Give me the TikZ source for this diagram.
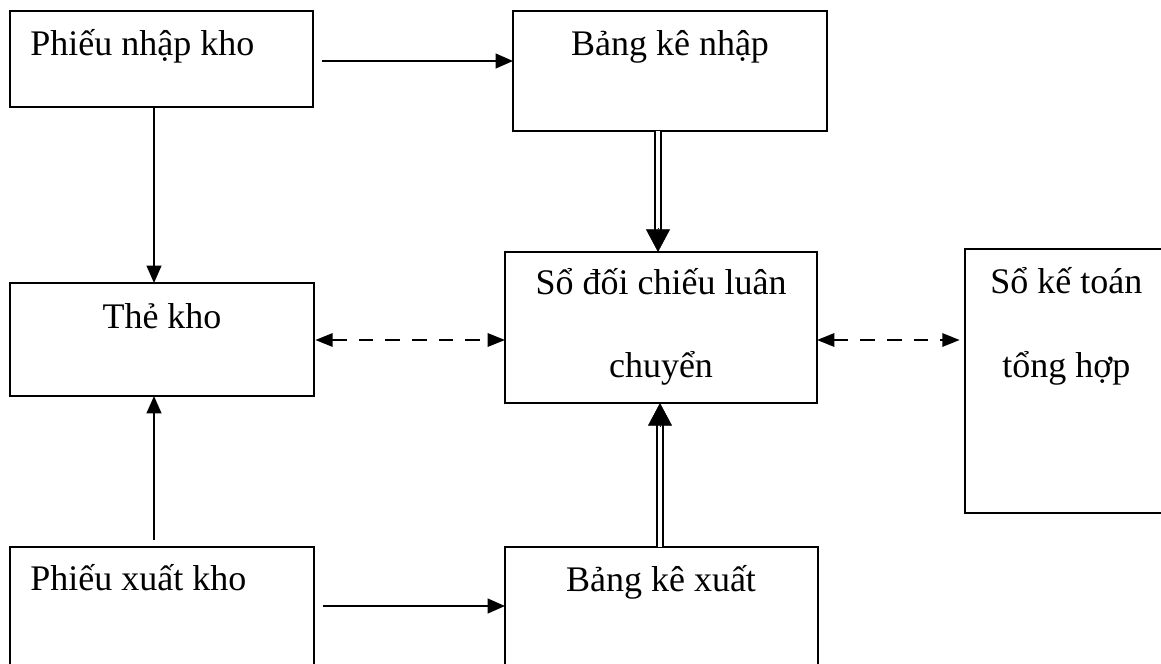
\documentclass[tikz,border=0pt]{standalone}
\usepackage{fontspec}
\setmainfont{Liberation Serif}
\usetikzlibrary{arrows.meta,fit,calc}
\begin{document}
\begin{tikzpicture}[x=0.75pt,y=-0.75pt,
  box/.style={draw, line width=1.6pt, inner sep=0pt, outer sep=0pt},
  lbl/.style={inner sep=0pt, font=\fontsize{27}{30}\selectfont},
  conn/.style={line width=1.6pt, -{Triangle[width=11pt,length=13pt]}},
  dconn/.style={line width=1.6pt, dash pattern=on 11pt off 9pt,
    {Triangle[width=10pt,length=13pt]}-{Triangle[width=10pt,length=13pt]}},
  dbl/.style={line width=1.5pt, double, double distance=2.4pt},
  bigtip/.style={line width=0.4pt, -{Triangle[width=18pt,length=17pt]}}]
\useasboundingbox (0,0) rectangle (1161,664);
\clip (0,0) rectangle (1161,664);
% boxes
\node[box, fit={(10,11) (313,107)}] (b1) {};
\node[box, fit={(513,11) (827,131)}] (b2) {};
\node[box, fit={(10,283) (314,396)}] (b3) {};
\node[box, fit={(505,252) (817,403)}] (b4) {};
\node[box, fit={(965,249) (1166,513)}] (b5) {};
\node[box, fit={(10,547) (314,672)}] (b6) {};
\node[box, fit={(505,547) (818,672)}] (b7) {};
% texts
\node[lbl, anchor=base west] (t1) at (30,55) {Phiếu nhập kho};
\node[lbl, anchor=base] (t2) at (670,55) {Bảng kê nhập};
\node[lbl, anchor=base] (t3) at (162,328) {Thẻ kho};
\node[lbl, anchor=base] (t4a) at (661,294) {Sổ đối chiếu luân};
\node[lbl, anchor=base] (t4b) at (661,377) {chuyển};
\node[lbl, anchor=base west] (t5a) at (990,293) {Sổ kế toán};
\node[lbl, anchor=base west] (t5b) at (1002,377) {tổng hợp};
\node[lbl, anchor=base west] (t6) at (30,590) {Phiếu xuất kho};
\node[lbl, anchor=base] (t7) at (661,591) {Bảng kê xuất};
% helper coordinates
\coordinate (ya) at (0,61);
\coordinate (yb) at (0,606);
\coordinate (ym) at (0,340);
\coordinate (xa) at (154,0);
\coordinate (x1) at (658,0);
\coordinate (x2) at (660,0);
% single arrows
\draw[conn, shorten <=7pt] (b1.east |- ya) -- (b2.west |- ya);
\draw[conn, shorten <=7pt] (b6.east |- yb) -- (b7.west |- yb);
\draw[conn] (b1.south -| xa) -- (b3.north -| xa);
\draw[conn, shorten <=5pt] (b6.north -| xa) -- (b3.south -| xa);
% dashed double-headed arrows
\draw[dconn, shorten <=1pt] (b3.east |- ym) -- (b4.west |- ym);
\draw[dconn, shorten >=4pt] (b4.east |- ym) -- (b5.west |- ym);
% double-line arrows
\draw[dbl, shorten >=15pt] (b2.south -| x1) -- (b4.north -| x1);
\draw[bigtip] ($(b4.north -| x1)+(0,-24)$) -- (b4.north -| x1);
\draw[dbl, shorten >=15pt] (b7.north -| x2) -- (b4.south -| x2);
\draw[bigtip] ($(b4.south -| x2)+(0,24)$) -- (b4.south -| x2);
\end{tikzpicture}
\end{document}
